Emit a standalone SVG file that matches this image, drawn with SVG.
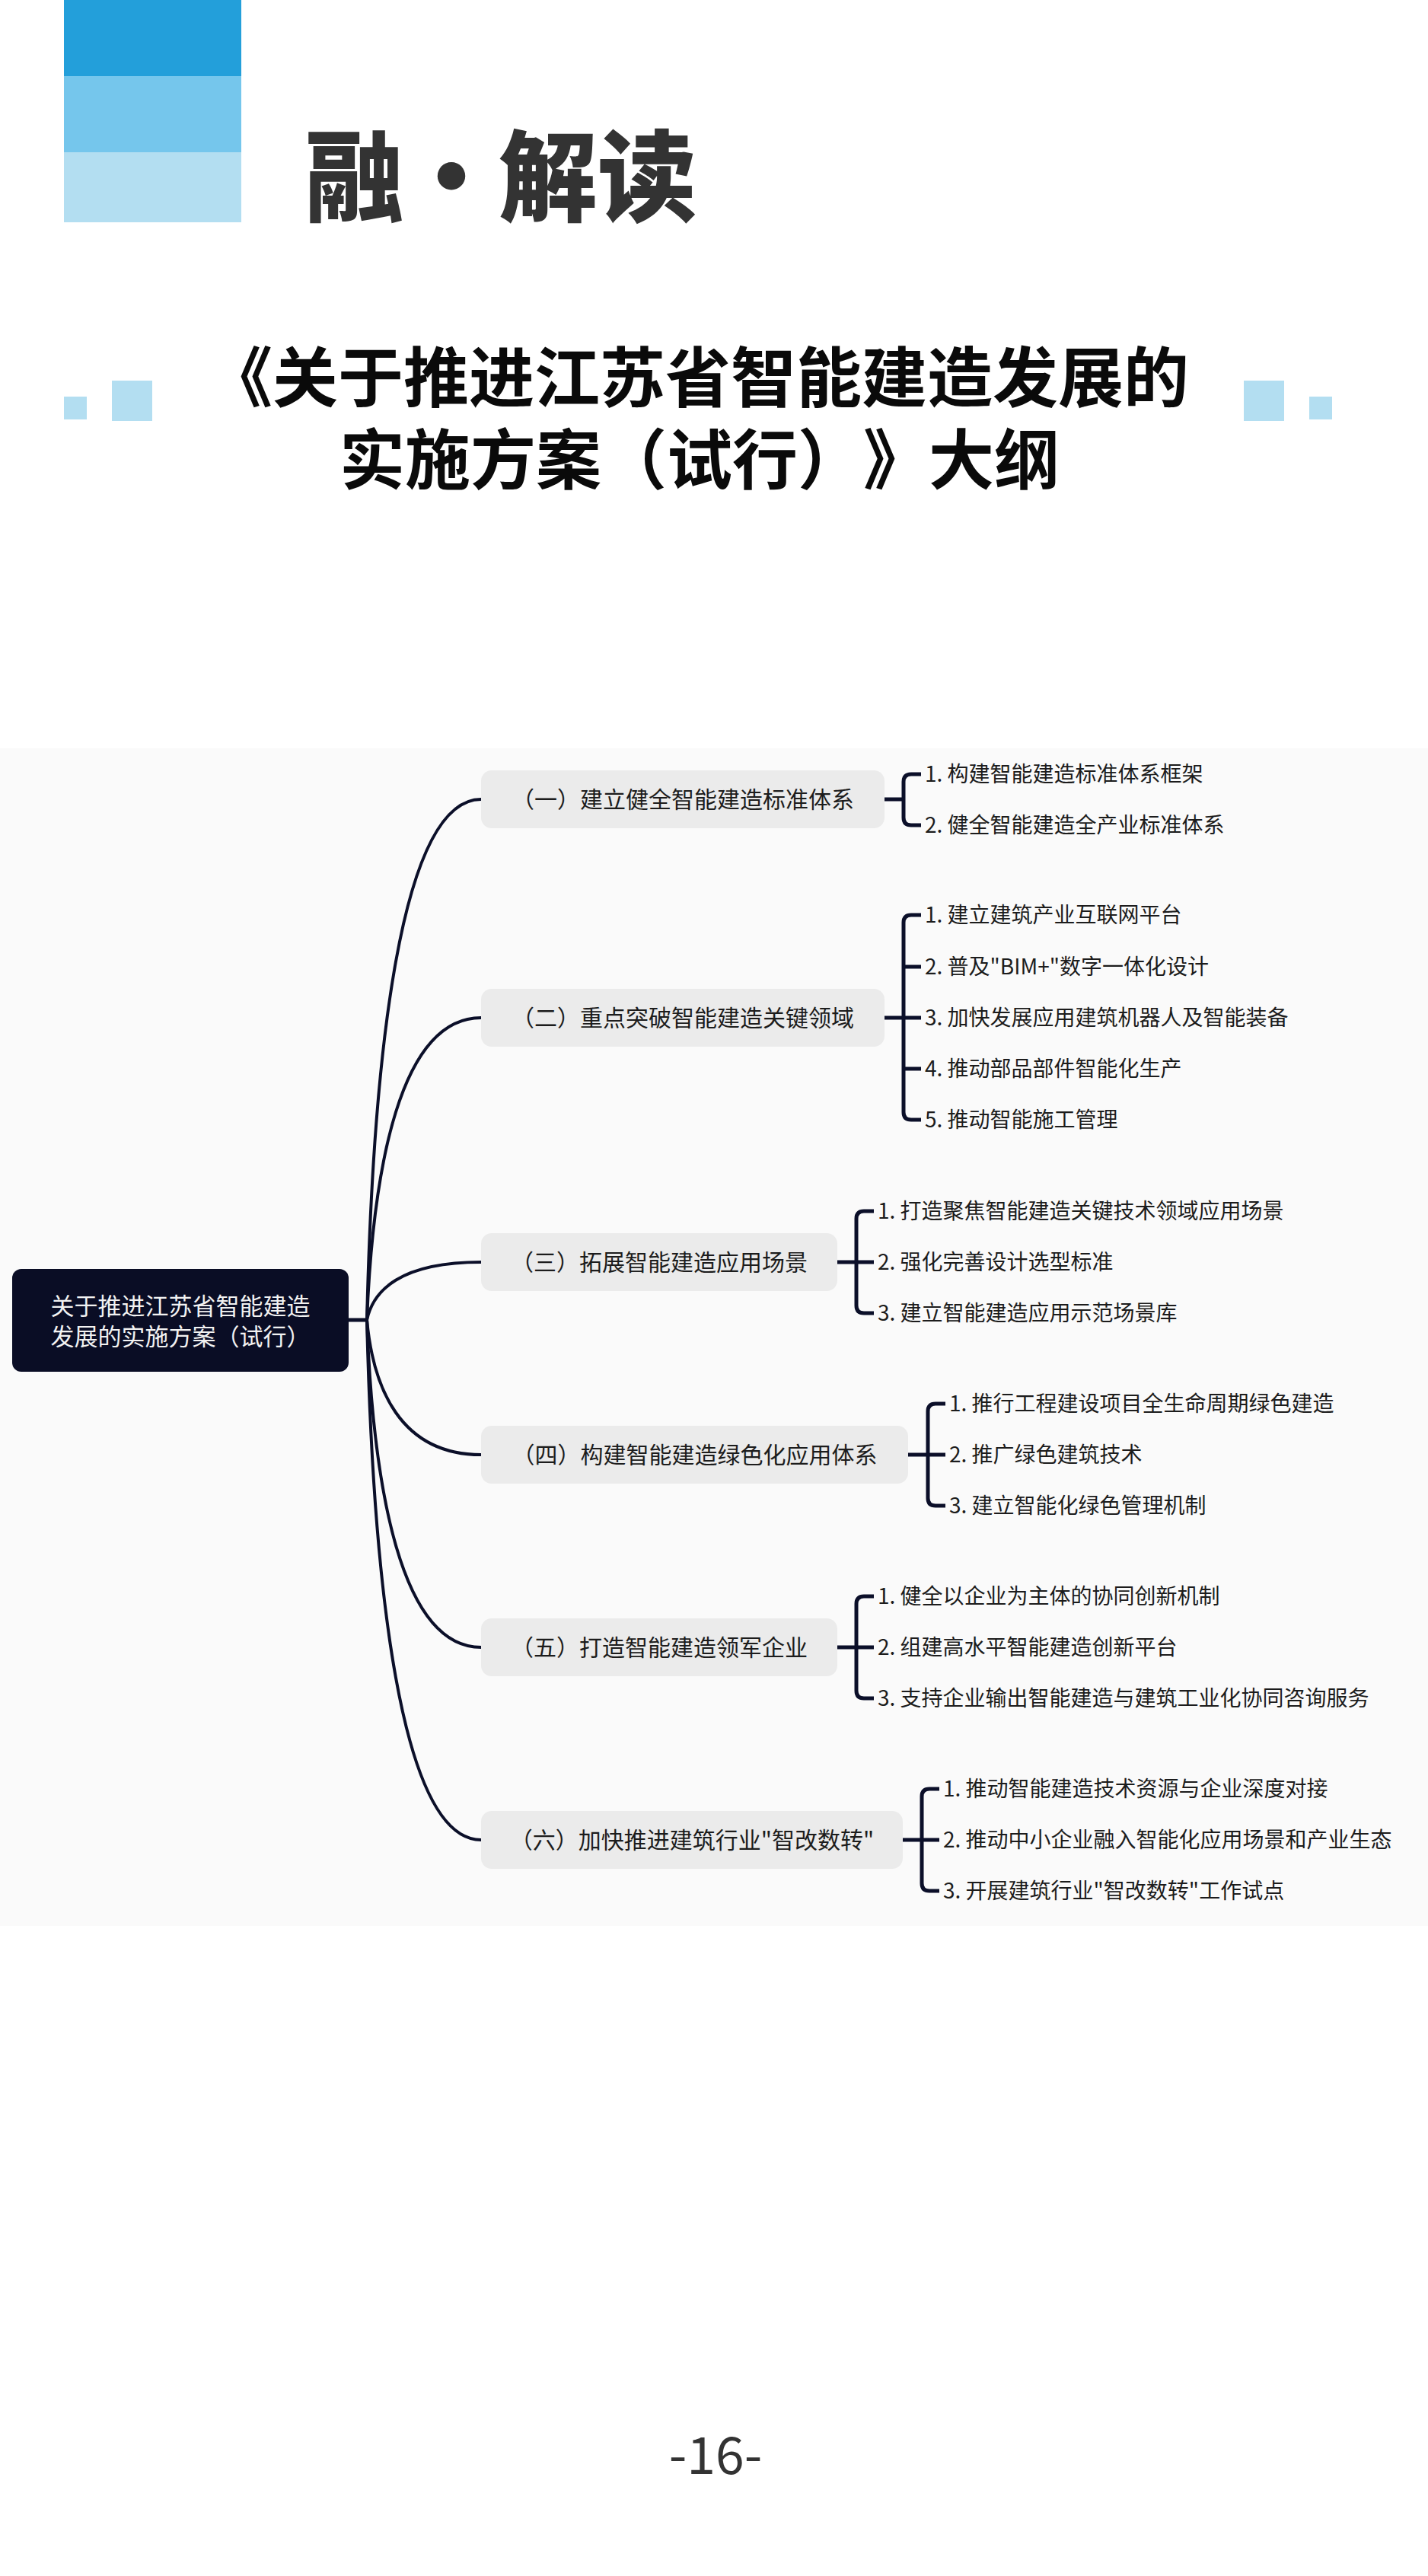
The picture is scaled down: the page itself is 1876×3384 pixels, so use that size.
<svg xmlns="http://www.w3.org/2000/svg" width="1876" height="3384" viewBox="0 0 1876 3384">
<style>
text{text-spacing-trim:space-all;}
.hd{font-family:"Noto Sans CJK SC","Noto Sans",sans-serif;}
.ttl{font-family:"Noto Sans CJK SC",sans-serif;font-weight:700;fill:#0a0a0a;font-size:86px;}
.root{fill:#0a0d25;}
.roott{font-family:"Noto Sans CJK SC",sans-serif;font-size:31px;fill:#f2f2f2;text-anchor:middle;}
.br{fill:#ebebeb;}
.brt{font-family:"Noto Sans CJK SC",sans-serif;font-size:30px;fill:#1c1c1c;text-anchor:middle;}
.kid{font-family:"Noto Sans CJK SC",sans-serif;font-size:28px;fill:#1c1c1c;}
.cv{fill:none;stroke:#0b0f29;stroke-width:4;stroke-linecap:round;}
.bk{fill:none;stroke:#0b0f29;stroke-width:5;stroke-linecap:butt;}
.deco{fill:#b3def1;}
</style>
<rect x="0" y="0" width="1876" height="3384" fill="#ffffff"/>
<g id="header">
<rect x="84" y="0" width="233" height="100" fill="#239fda"/>
<rect x="84" y="100" width="233" height="100" fill="#75c6ec"/>
<rect x="84" y="200" width="233" height="92" fill="#b3def1"/>
<text class="hd" x="466 593 720 850" y="280" font-size="130" font-weight="900" fill="#333333" text-anchor="middle">融·解读</text>
</g>
<g id="title">
<rect class="deco" x="84" y="521" width="30" height="30"/>
<rect class="deco" x="147" y="500" width="53" height="53"/>
<rect class="deco" x="1634" y="500" width="53" height="53"/>
<rect class="deco" x="1720" y="521" width="30" height="30"/>
<text class="ttl"><tspan x="272" y="528">《关于推进江苏省智能建造发展的</tspan><tspan x="446" y="636">实施方案（试行）》大纲</tspan></text>
</g>
<rect id="mindmap-bg" x="0" y="983" width="1876" height="1547" fill="#fafafa"/>
<g id="connectors">
<path class="bk" d="M458,1734 H484"/>
<path class="cv" d="M482,1734 C490,1392 525,1050 632,1050"/>
<path class="cv" d="M482,1734 C490,1536 525,1337 632,1337"/>
<path class="cv" d="M482,1734 C490,1696 525,1658 632,1658"/>
<path class="cv" d="M482,1734 C490,1822 525,1911 632,1911"/>
<path class="cv" d="M482,1734 C490,1949 525,2164 632,2164"/>
<path class="cv" d="M482,1734 C490,2075 525,2417 632,2417"/>
<path class="bk" d="M1162,1050 H1187"/>
<path class="bk" d="M1210,1017 H1197 Q1187,1017 1187,1027 V1074 Q1187,1084 1197,1084 H1210"/>
<path class="bk" d="M1162,1337 H1210"/>
<path class="bk" d="M1210,1202 H1197 Q1187,1202 1187,1212 V1461 Q1187,1471 1197,1471 H1210"/>
<path class="bk" d="M1187,1270 H1210 M1187,1404 H1210"/>
<path class="bk" d="M1100,1658 H1148"/>
<path class="bk" d="M1148,1591 H1135 Q1125,1591 1125,1601 V1715 Q1125,1725 1135,1725 H1148"/>
<path class="bk" d="M1193,1911 H1242"/>
<path class="bk" d="M1242,1844 H1229 Q1219,1844 1219,1854 V1968 Q1219,1978 1229,1978 H1242"/>
<path class="bk" d="M1100,2164 H1148"/>
<path class="bk" d="M1148,2097 H1135 Q1125,2097 1125,2107 V2221 Q1125,2231 1135,2231 H1148"/>
<path class="bk" d="M1186,2417 H1234"/>
<path class="bk" d="M1234,2350 H1221 Q1211,2350 1211,2360 V2474 Q1211,2484 1221,2484 H1234"/>
</g>
<g id="root">
<rect class="root" x="16" y="1667" width="442" height="135" rx="12"/>
<text class="roott"><tspan x="237" y="1727">关于推进江苏省智能建造</tspan><tspan x="237" y="1767">发展的实施方案（试行）</tspan></text>
</g>
<g id="b1">
<rect class="br" x="632" y="1012" width="530" height="76" rx="14"/>
<text class="brt" x="897" y="1061">（一）建立健全智能建造标准体系</text>
</g>
<g id="b1-kids">
<text class="kid" x="1215" y="1027">1. 构建智能建造标准体系框架</text>
<text class="kid" x="1215" y="1094">2. 健全智能建造全产业标准体系</text>
</g>
<g id="b2">
<rect class="br" x="632" y="1299" width="530" height="76" rx="14"/>
<text class="brt" x="897" y="1348">（二）重点突破智能建造关键领域</text>
</g>
<g id="b2-kids">
<text class="kid" x="1215" y="1212">1. 建立建筑产业互联网平台</text>
<text class="kid" x="1215" y="1280">2. 普及"BIM+"数字一体化设计</text>
<text class="kid" x="1215" y="1347">3. 加快发展应用建筑机器人及智能装备</text>
<text class="kid" x="1215" y="1414">4. 推动部品部件智能化生产</text>
<text class="kid" x="1215" y="1481">5. 推动智能施工管理</text>
</g>
<g id="b3">
<rect class="br" x="632" y="1620" width="468" height="76" rx="14"/>
<text class="brt" x="866" y="1669">（三）拓展智能建造应用场景</text>
</g>
<g id="b3-kids">
<text class="kid" x="1153" y="1601">1. 打造聚焦智能建造关键技术领域应用场景</text>
<text class="kid" x="1153" y="1668">2. 强化完善设计选型标准</text>
<text class="kid" x="1153" y="1735">3. 建立智能建造应用示范场景库</text>
</g>
<g id="b4">
<rect class="br" x="632" y="1873" width="561" height="76" rx="14"/>
<text class="brt" x="912.5" y="1922">（四）构建智能建造绿色化应用体系</text>
</g>
<g id="b4-kids">
<text class="kid" x="1247" y="1854">1. 推行工程建设项目全生命周期绿色建造</text>
<text class="kid" x="1247" y="1921">2. 推广绿色建筑技术</text>
<text class="kid" x="1247" y="1988">3. 建立智能化绿色管理机制</text>
</g>
<g id="b5">
<rect class="br" x="632" y="2126" width="468" height="76" rx="14"/>
<text class="brt" x="866" y="2175">（五）打造智能建造领军企业</text>
</g>
<g id="b5-kids">
<text class="kid" x="1153" y="2107">1. 健全以企业为主体的协同创新机制</text>
<text class="kid" x="1153" y="2174">2. 组建高水平智能建造创新平台</text>
<text class="kid" x="1153" y="2241">3. 支持企业输出智能建造与建筑工业化协同咨询服务</text>
</g>
<g id="b6">
<rect class="br" x="632" y="2379" width="554" height="76" rx="14"/>
<text class="brt" x="909" y="2428">（六）加快推进建筑行业"智改数转"</text>
</g>
<g id="b6-kids">
<text class="kid" x="1239" y="2360">1. 推动智能建造技术资源与企业深度对接</text>
<text class="kid" x="1239" y="2427">2. 推动中小企业融入智能化应用场景和产业生态</text>
<text class="kid" x="1239" y="2494">3. 开展建筑行业"智改数转"工作试点</text>
</g>
<text class="hd" x="940" y="3250" font-size="68" fill="#333333" text-anchor="middle">-16-</text>
</svg>
